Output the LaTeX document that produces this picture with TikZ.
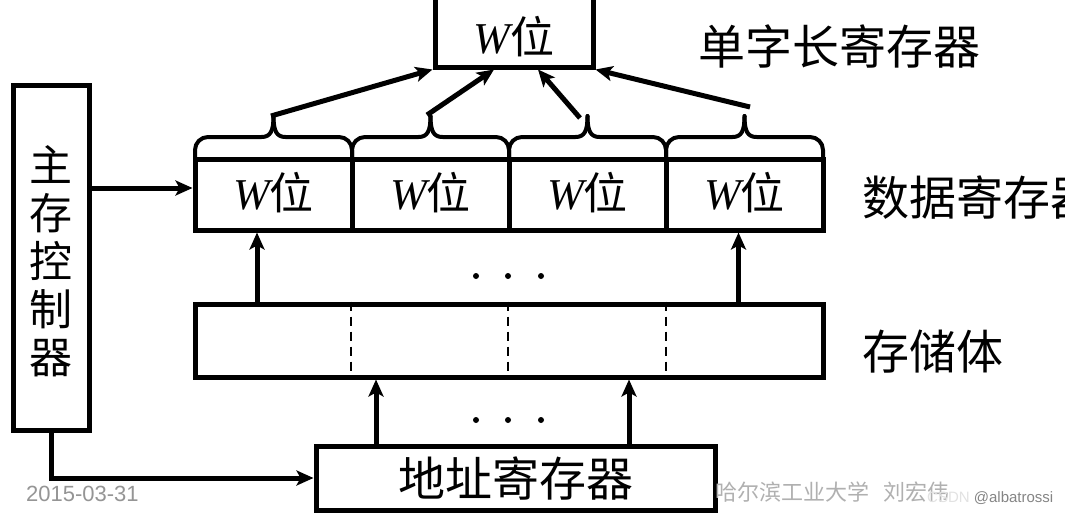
\documentclass[tikz,border=0pt]{standalone}
\usepackage{fontspec}
\setmainfont{Liberation Serif}
\newfontfamily\cjk{Noto Sans CJK SC}
\newfontfamily\wmsans{Liberation Sans}
\usetikzlibrary{arrows.meta,calc}
\definecolor{dategray}{HTML}{959595}
\definecolor{wmgray}{HTML}{B0B0B0}
\definecolor{csdnw}{HTML}{E2E2E2}
\definecolor{csdng}{HTML}{858585}
\begin{document}
\begin{tikzpicture}[x=1pt,y=-1pt,
  box/.style={draw,line width=5pt,inner sep=0pt},
  arr/.style={line width=5pt,-{Stealth[length=17pt,width=15pt,inset=4pt]}},
  bracepath/.style={line width=4pt,line cap=round,line join=round},
  wtext/.style={inner sep=0pt,font=\fontsize{44}{50}\selectfont},
  cjklabel/.style={inner sep=0pt,anchor=west,font=\cjk\fontsize{47}{52}\selectfont},
  dotnode/.style={circle,fill,inner sep=0pt,minimum size=6pt},
  dashdiv/.style={line width=2pt,dash pattern=on 9pt off 6pt}]
\useasboundingbox (0,0) rectangle (1065,514);
\fill[white] (0,0) rectangle (1065,514);

% top register
\node[box,minimum width=158,minimum height=90] (top) at (514,22) {};
\node[wtext] (toptext) at (514,37) {\itshape W\cjk 位};
\node[cjklabel] (lbltop) at (698,46) {单字长寄存器};

% data register cells
\foreach \i/\x in {1/273.5,2/430.5,3/587.5,4/744.5}{
  \node[box,minimum width=157,minimum height=71] (c\i) at (\x,194.5) {};
  \node[wtext] (w\i) at (\x,193) {\itshape W\cjk 位};
}
\node[cjklabel] (lbldata) at (862,198) {数据寄存器};

% braces
\foreach \xl/\xc/\xr in {195/273.5/352,352/430.5/509,509/587.5/666,666/744.5/823}{
  \draw[bracepath,rounded corners=13pt] (\xl,160) |- (\xc-12,137);
  \draw[bracepath] (\xc-12,137) .. controls (\xc-3,137) and (\xc,131) .. (\xc,116);
  \draw[bracepath] (\xc,116) .. controls (\xc,131) and (\xc+3,137) .. (\xc+12,137);
  \draw[bracepath,rounded corners=13pt] (\xc+12,137) -| (\xr,160);
}

% storage
\node[box,minimum width=628,minimum height=73] (sto) at (509,340.5) {};
\foreach \x in {351,508,666}{
  \draw[dashdiv] (sto.north -| \x,0) -- (sto.south -| \x,0);
}
\node[cjklabel] (lblsto) at (862,352) {存储体};

% address register
\node[box,minimum width=399,minimum height=64,font=\cjk\fontsize{47}{52}\selectfont] (addr) at (515.5,478) {地址寄存器};

% controller
\node[box,minimum width=76,minimum height=345] (ctrl) at (51,257.5) {};
\node[inner sep=0pt,align=center,font=\cjk\fontsize{43}{48}\selectfont] (ctrltext) at (51,261) {主\\存\\控\\制\\器};

% dots
\foreach \x [count=\k] in {476,508,541}{
  \node[dotnode] (du\k) at (\x,276) {};
  \node[dotnode] (dl\k) at (\x,420) {};
}

% arrows
\coordinate (a1) at (271,116);
\coordinate (a2) at (427,115);
\coordinate (a3) at (580,118);
\coordinate (a4) at (750,107);
\draw[arr] (a1) -- (top.south west);
\draw[arr] (a2) -- ($(top.south)+(-20,0)$);
\draw[arr] (a3) -- ($(top.south)+(24,0)$);
\draw[arr] (a4) -- (top.south east);

\coordinate (ry) at (0,188);
\draw[arr] (ctrl.east |- ry) -- (c1.west |- ry);
\draw[arr] (sto.north -| 257,0) -- (c1.south -| 257,0);
\draw[arr] (sto.north -| 738.5,0) -- (c4.south -| 738.5,0);
\draw[arr] (addr.north -| 376,0) -- (sto.south -| 376,0);
\draw[arr] (addr.north -| 629,0) -- (sto.south -| 629,0);
\draw[arr] (ctrl.south) |- (addr.west);

% watermarks
\node[inner sep=0pt,anchor=west,text=dategray,font=\wmsans\fontsize{22}{24}\selectfont] (date) at (26,494) {2015-03-31};
\node[inner sep=0pt,anchor=west,text=wmgray,font=\cjk\fontsize{22}{24}\selectfont] (wm) at (715,492) {哈尔滨工业大学\hspace{14pt}刘宏伟};
\node[inner sep=0pt,anchor=west,text=csdng,font=\wmsans\fontsize{15}{17}\selectfont] (csdn) at (927,498) {\textcolor{csdnw}{CSDN} @albatrossi};
\end{tikzpicture}
\end{document}
